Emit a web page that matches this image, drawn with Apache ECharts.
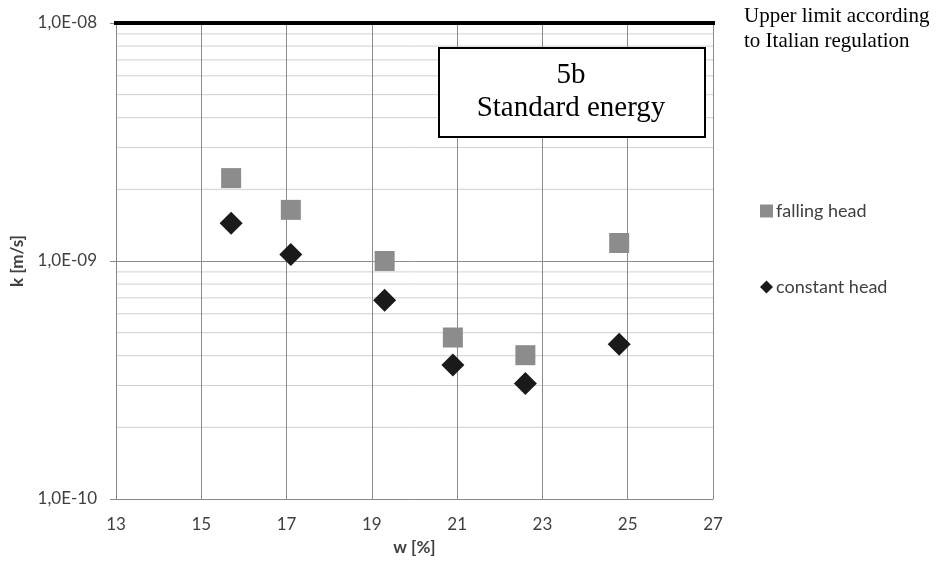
<!DOCTYPE html>
<html>
<head>
<meta charset="utf-8">
<script src="https://cdn.jsdelivr.net/npm/echarts@6/dist/echarts.min.js"></script>
<style>html,body{margin:0;padding:0;background:#fff;}#c{width:938px;height:563px;}</style>
</head>
<body>
<div id="c"></div>
<script>
const wFalling = [15.7, 17.1, 19.3, 20.9, 22.6, 24.8];
const kFalling = [2.23e-9, 1.64e-9, 1.0e-9, 4.77e-10, 4.02e-10, 1.19e-9];
const wConstant = [15.7, 17.1, 19.3, 20.9, 22.6, 24.8];
const kConstant = [1.44e-9, 1.065e-9, 6.84e-10, 3.66e-10, 3.06e-10, 4.47e-10];
const upperLimit = 1e-8;
const xRange = [13, 27];
const yRange = [1e-10, 1e-8];
const minorGrid = [2e-10,3e-10,4e-10,5e-10,6e-10,7e-10,8e-10,9e-10,2e-9,3e-9,4e-9,5e-9,6e-9,7e-9,8e-9,9e-9];
const seriesNames = ['falling head', 'constant head'];
const limitLabel = ['Upper limit according', 'to Italian regulation'];
const boxLabel = ['5b', 'Standard energy'];

function fmtExp(v) {
  const s = v.toExponential(1);
  const parts = s.split('e');
  const mant = parts[0].replace('.', ',');
  let ex = parseInt(parts[1], 10);
  const sign = ex < 0 ? '-' : '+';
  ex = Math.abs(ex);
  return mant + 'E' + sign + (ex < 10 ? '0' + ex : '' + ex);
}

const chart = echarts.init(document.getElementById('c'), null, {renderer: 'canvas'});
const font = 'Lato, "Open Sans", sans-serif';

const minorSeries = minorGrid.map(v => ({
  name: 'minor', type: 'line', silent: true, symbol: 'none', z: 1,
  lineStyle: {color: '#d0d0d0', width: 1},
  emphasis: {disabled: true},
  data: [[xRange[0], v], [xRange[1], v]]
}));

chart.setOption({
  animation: false,
  backgroundColor: '#ffffff',
  grid: {left: 116, right: 225, top: 23, bottom: 64, containLabel: false},
  xAxis: {
    type: 'value', min: xRange[0], max: xRange[1], interval: 2,
    name: 'w [%]', nameLocation: 'middle', nameGap: 40,
    nameTextStyle: {fontFamily: font, fontSize: 17, fontWeight: 'bold', color: '#404040'},
    axisLine: {show: true, lineStyle: {color: '#888888', width: 1}},
    axisTick: {show: false},
    axisLabel: {fontFamily: font, fontSize: 17, color: '#404040', margin: 17},
    splitLine: {show: true, lineStyle: {color: '#8c8c8c', width: 1}},
    z: 3
  },
  yAxis: {
    type: 'log', logBase: 10, min: yRange[0], max: yRange[1],
    name: 'k [m/s]', nameLocation: 'middle', nameGap: 90, nameRotate: 90,
    nameTextStyle: {fontFamily: font, fontSize: 17, fontWeight: 'bold', color: '#404040'},
    axisLine: {show: true, lineStyle: {color: '#888888', width: 1}},
    axisTick: {show: true, inside: false, length: 6, lineStyle: {color: '#888888'}},
    axisLabel: {fontFamily: font, fontSize: 17, color: '#404040', margin: 19, formatter: fmtExp},
    splitLine: {show: true, lineStyle: {color: '#8c8c8c', width: 1}},
    z: 3
  },
  legend: {
    orient: 'vertical', left: 755, top: 197, itemGap: 58,
    itemWidth: 13, itemHeight: 13,
    textStyle: {fontFamily: font, fontSize: 18, color: '#404040', padding: [0, 0, 0, -2]},
    data: [
      {name: seriesNames[0], icon: 'rect'},
      {name: seriesNames[1], icon: 'diamond'}
    ]
  },
  series: minorSeries.concat([
    {
      name: 'limit', type: 'line', silent: true, symbol: 'none', clip: false,
      lineStyle: {color: '#000000', width: 4},
      data: [[xRange[0] - 0.05, upperLimit], [xRange[1] + 0.07, upperLimit]],
      z: 5
    },
    {
      name: seriesNames[0], type: 'scatter', symbol: 'rect', symbolSize: 20,
      itemStyle: {color: '#8c8c8c', opacity: 1},
      data: wFalling.map((w, i) => [w, kFalling[i]]), z: 6
    },
    {
      name: seriesNames[1], type: 'scatter', symbol: 'diamond', symbolSize: [23, 23],
      itemStyle: {color: '#1a1a1a', opacity: 1},
      data: wConstant.map((w, i) => [w, kConstant[i]]), z: 7
    }
  ]),
  graphic: [
    {
      type: 'rect', left: 438, top: 47, z: 100,
      shape: {width: 266, height: 89},
      style: {fill: '#ffffff', stroke: '#000000', lineWidth: 2}
    },
    {
      type: 'text', z: 101,
      style: {
        x: 571, y: 59, text: boxLabel[0] + '\n' + boxLabel[1], textAlign: 'center',
        font: '29px "Liberation Serif", "Times New Roman", serif', fill: '#000000', lineHeight: 33
      }
    },
    {
      type: 'text', z: 101,
      style: {
        x: 744, y: 4, text: limitLabel[0] + '\n' + limitLabel[1],
        font: '21px "Liberation Serif", "Times New Roman", serif', fill: '#000000', lineHeight: 25
      }
    }
  ]
});
</script>
</body>
</html>
